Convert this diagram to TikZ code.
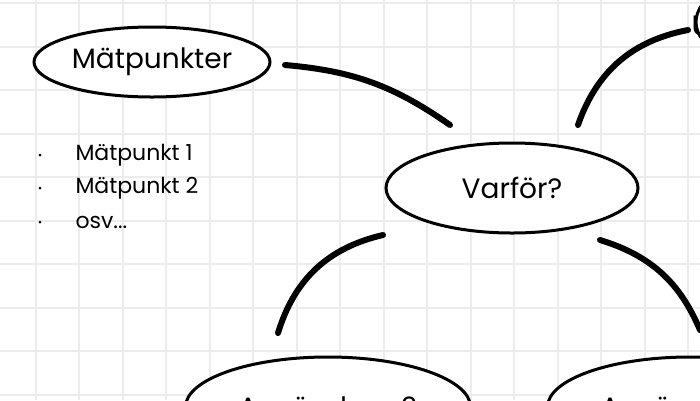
\documentclass[tikz,border=0pt]{standalone}
\usepackage{fontspec}
\setmainfont{Poppins}
\usetikzlibrary{shapes.geometric}
\tikzset{
  topic/.style={ellipse, draw, line width=3pt, fill=white, inner sep=0pt, font=\fontsize{28}{31}\selectfont},
  link/.style={line width=6pt, line cap=round},
  item/.style={anchor=west, font=\fontsize{22}{25}\selectfont}
}
\begin{document}
\begin{tikzpicture}[x=1pt,y=-1pt]
\useasboundingbox (0,0) rectangle (700,400);
\clip (0,0) rectangle (700,400);

% background grid
\foreach \g in {0,...,17} {
  \draw[gray!15, line width=2pt] (\g*43.5-8,0) -- (\g*43.5-8,400);
}
\foreach \g in {0,...,10} {
  \draw[gray!15, line width=2pt] (0,\g*43.5+3) -- (700,\g*43.5+3);
}

\node[topic, minimum width=236, minimum height=70] (mat) at (152,62) {Mätpunkter};
\node[topic, minimum width=252, minimum height=90] (varfor) at (512,188) {Varför?};
\node[topic, minimum width=285, minimum height=100] (anv2) at (328,407) {Användare 2};
\node[topic, minimum width=285, minimum height=100] (anv3) at (690,407) {Användare 3};
\node[topic, minimum width=160, minimum height=90] (more) at (776,22) {};
\node[anchor=west, font=\fontsize{28}{31}\selectfont] at (688,26) {U};

\node[item] (p1) at (72,155) {Mätpunkt 1};
\node[item] (p2) at (72,188) {Mätpunkt 2};
\node[item] (p3) at (72,222) {osv...};
\foreach \n in {p1,p2,p3} {
  \fill ([xshift=-32]\n.west) circle (1.5);
}

\coordinate (m1) at (285,65);
\coordinate (m2) at (450,125);
\coordinate (u1) at (578,125);
\coordinate (u2) at (688,30);
\coordinate (a1) at (383,235);
\coordinate (a2) at (278,333);
\coordinate (b1) at (600,240);
\coordinate (b2) at (700,330);
\draw[link] (m1) to[bend left=15] (m2);
\draw[link] (u1) to[bend left=30] (u2);
\draw[link] (a1) to[bend right=30] (a2);
\draw[link] (b1) to[bend left=25] (b2);
\end{tikzpicture}
\end{document}
